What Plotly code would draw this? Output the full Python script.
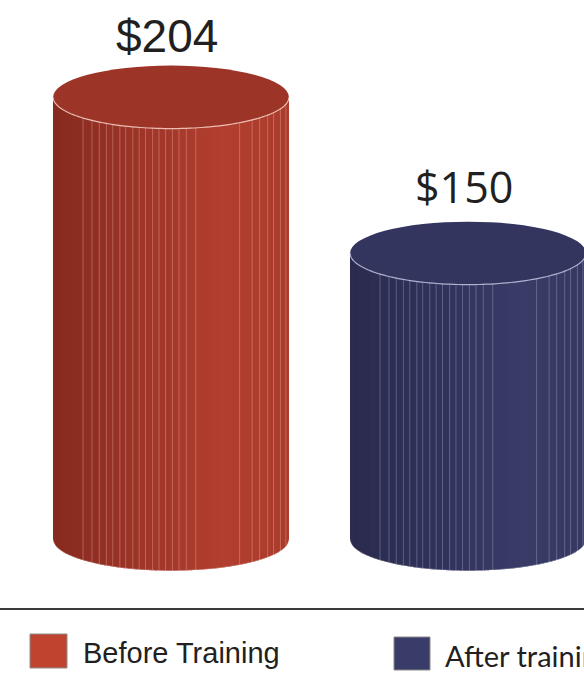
import numpy as np
import plotly.graph_objects as go

# ---- data -------------------------------------------------------------
categories = ["Before Training", "After training"]
values = [204, 150]
value_labels = ["$204", "$150"]

# ---- styling ----------------------------------------------------------
side_stops = [
    [(0.0, "#862a1e"), (0.45, "#a3372a"), (0.72, "#b23f2f"), (1.0, "#aa3b2c")],
    [(0.0, "#2a2b4e"), (0.45, "#32345e"), (0.72, "#3a3c68"), (1.0, "#363862")],
]
top_colors = ["#9c3427", "#33355f"]
rim_colors = ["rgba(255,222,212,0.8)", "rgba(205,210,235,0.8)"]
facet_colors = ["rgba(255,215,205,0.30)", "rgba(200,205,235,0.30)"]
legend_colors = ["#c0432f", "#393b69"]
label_fonts = ["Liberation Sans", "Open Sans"]
label_sizes = [46, 43]
label_yshift = [2, 4]
legend_fonts = ["Liberation Sans", "Lato"]
legend_sizes = [29, 29]

BASE = 51            # value-axis floor the cylinders stand on
Y_RANGE = [4, 237.6]
X_RANGE = [-0.5758, 1.3906]
HALF_W = 0.397       # cylinder radius in category units
RY = 10.9            # ellipse half-height in value units
N_STRIPS = 60
FACETS = [0.127, 0.165, 0.196, 0.226, 0.253, 0.283, 0.308, 0.338, 0.365,
          0.392, 0.422, 0.449, 0.477, 0.506, 0.534, 0.565, 0.605, 0.791,
          0.844, 0.876, 0.91, 0.935, 0.964, 0.987]

W, H = 584, 675


def hex_rgb(h):
    h = h.lstrip("#")
    return np.array([int(h[i:i + 2], 16) for i in (0, 2, 4)], dtype=float)


def gradient(stops, t):
    for (t0, c0), (t1, c1) in zip(stops[:-1], stops[1:]):
        if t0 <= t <= t1:
            k = (t - t0) / (t1 - t0)
            c = hex_rgb(c0) * (1 - k) + hex_rgb(c1) * k
            return "rgb({:.0f},{:.0f},{:.0f})".format(*c)
    return stops[-1][1]


def front_depth(cx, x):
    u = np.clip((x - cx) / HALF_W, -1, 1)
    return RY * np.sqrt(1 - u * u)


def pj(p):
    """pixel row -> paper y"""
    return 1 - p / H


shapes = []
annotations = []
t = np.linspace(np.pi, 2 * np.pi, 90)

for i, v in enumerate(values):
    cx = i
    left = cx - HALF_W
    right = cx + HALF_W
    xs = cx + HALF_W * np.cos(t)

    # solid wall underneath so strip joins never show white
    wall = (f"M{left},{v} L{right},{v} L"
            + " L".join(f"{a},{b}" for a, b in zip(xs[::-1], (BASE + RY * np.sin(t))[::-1]))
            + " Z")
    shapes.append(dict(type="path", path=wall, xref="x", yref="y",
                       fillcolor=gradient(side_stops[i], 0.5),
                       line=dict(width=0), layer="above"))

    # wall shading as overlapping vertical strips
    step = 2 * HALF_W / N_STRIPS
    for s in range(N_STRIPS):
        xa = left + s * step
        xb = min(xa + step * 1.35, right)
        col = gradient(side_stops[i], (s + 0.5) / N_STRIPS)
        ya = BASE - front_depth(cx, xa)
        ym = BASE - front_depth(cx, (xa + xb) / 2)
        yb = BASE - front_depth(cx, xb)
        path = (f"M{xa},{v} L{xb},{v} L{xb},{yb} "
                f"L{(xa + xb) / 2},{ym} L{xa},{ya} Z")
        shapes.append(dict(type="path", path=path, xref="x", yref="y",
                           fillcolor=col, line=dict(width=0), layer="above"))

    # thin facet lines on the wall
    for f in FACETS:
        x = left + f * 2 * HALF_W
        d = front_depth(cx, x)
        shapes.append(dict(type="line", x0=x, x1=x, y0=v - d, y1=BASE - d,
                           xref="x", yref="y", layer="above",
                           line=dict(color=facet_colors[i], width=1)))

    # top face
    shapes.append(dict(type="circle", xref="x", yref="y",
                       x0=left, x1=right, y0=v - RY, y1=v + RY,
                       fillcolor=top_colors[i], line=dict(width=0),
                       layer="above"))

    # light rim along the front of the top and bottom edges
    top_arc = "M" + " L".join(f"{a},{b}" for a, b in zip(xs, v + RY * np.sin(t)))
    bot_arc = "M" + " L".join(f"{a},{b}" for a, b in zip(xs, BASE + RY * np.sin(t)))
    shapes.append(dict(type="path", path=top_arc, xref="x", yref="y",
                       line=dict(color=rim_colors[i], width=1.2), layer="above"))
    shapes.append(dict(type="path", path=bot_arc, xref="x", yref="y",
                       line=dict(color="rgba(255,255,255,0.35)", width=1),
                       layer="above"))

    # value label above the cylinder
    annotations.append(dict(x=cx, y=v + RY, xref="x", yref="y",
                            text=value_labels[i], showarrow=False,
                            xanchor="center", yanchor="bottom",
                            xshift=-4, yshift=label_yshift[i],
                            font=dict(family=label_fonts[i], size=label_sizes[i],
                                      color="#231f20")))

# baseline rule
shapes.append(dict(type="line", xref="paper", yref="paper", x0=0, x1=1,
                   y0=pj(609), y1=pj(609),
                   line=dict(color="#3a3a3a", width=2)))

# legend swatches and names
legend_boxes = [(30, 67, 634, 668), (394, 430, 637, 670)]
legend_text_x = [81, 443]
for i, name in enumerate(categories):
    x0, x1, y0, y1 = legend_boxes[i]
    shapes.append(dict(type="rect", xref="paper", yref="paper",
                       x0=x0 / W, x1=x1 / W, y0=pj(y1), y1=pj(y0),
                       fillcolor=legend_colors[i],
                       line=dict(color="#8c8c8c", width=1)))
    annotations.append(dict(x=legend_text_x[i] / W, y=pj((y0 + y1) / 2 + 2),
                            xref="paper", yref="paper", text=name,
                            showarrow=False, xanchor="left", yanchor="middle",
                            font=dict(family=legend_fonts[i],
                                      size=legend_sizes[i], color="#231f20")))

fig = go.Figure()
fig.add_trace(go.Scatter(x=list(range(len(values))), y=values, mode="markers",
                         marker=dict(opacity=0), hoverinfo="skip",
                         showlegend=False))
fig.update_layout(
    width=W, height=H, margin=dict(l=0, r=0, t=0, b=0),
    paper_bgcolor="white", plot_bgcolor="white",
    xaxis=dict(visible=False, range=X_RANGE, fixedrange=True),
    yaxis=dict(visible=False, range=Y_RANGE, fixedrange=True),
    shapes=shapes, annotations=annotations, showlegend=False,
)
fig.write_html("out.html")
